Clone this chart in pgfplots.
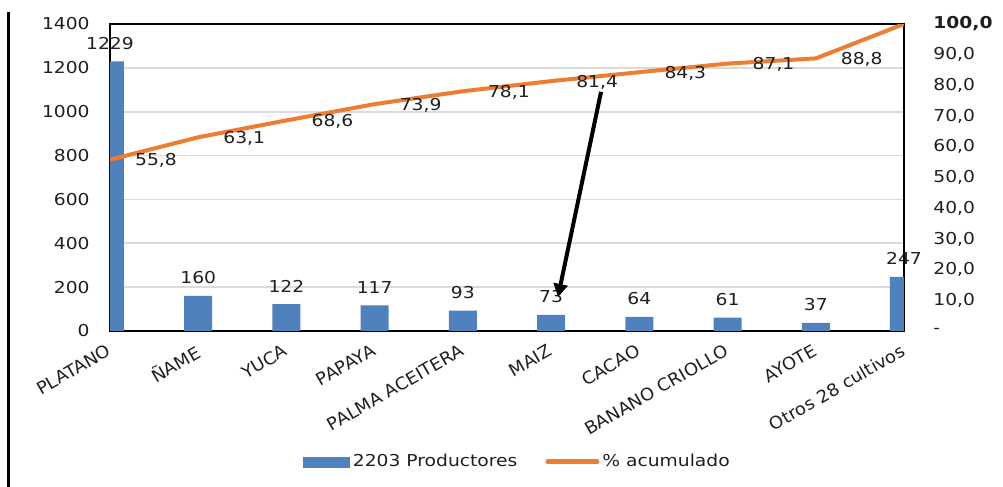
\documentclass[border=0pt]{standalone}
\usepackage{fontspec}
\usepackage{pgfplots}
\pgfplotsset{compat=1.18}
\usetikzlibrary{arrows.meta}
\newfontfamily\cf[FakeStretch=1.14]{DejaVu Sans}
\newfontfamily\cfn[FakeStretch=1.05]{DejaVu Sans}
\newcommand\chartfont{\cf\fontsize{8.2pt}{9.8pt}\selectfont}
\newcommand\xfont{\cfn\fontsize{8.6pt}{10pt}\selectfont}
\definecolor{barblue}{HTML}{4F81BD}
\definecolor{lineorange}{HTML}{ED7D31}
\definecolor{txt}{HTML}{1F1F1F}
\begin{document}
\begin{tikzpicture}
\useasboundingbox (-55pt,-78pt) rectangle (446.5pt,165.5pt);
\draw[black, line width=1.5pt] (-50.5pt,159.5pt) -- (-50.5pt,-78pt);
\begin{axis}[
 at={(0pt,0pt)}, anchor=south west,
 scale only axis, width=397pt, height=153.5pt,
 xmin=0, xmax=9, ymin=0, ymax=1400,
 xtick={0,...,9},
 xticklabels={PLATANO,ÑAME,YUCA,PAPAYA,PALMA ACEITERA,MAIZ,CACAO,BANANO CRIOLLO,AYOTE,Otros 28 cultivos},
 ytick={0,200,...,1400},
 yticklabels={0,200,400,600,800,1000,1200,1400},
 major tick length=0pt,
 ymajorgrids, grid style={draw=gray!28, line width=0.9pt},
 axis line style={black, line width=1pt},
 tick label style={text=txt},
 yticklabel style={font=\chartfont, anchor=east, inner sep=0pt, xshift=-10pt},
 xticklabel style={font=\xfont, xshift=-2pt, yshift=-6pt, rotate=30, anchor=north east, inner sep=0pt},
 tick style={draw=none},
]
\addplot[ybar, bar width=14pt, fill=barblue, draw=none, nodes near coords, point meta=explicit symbolic,
  every node near coord/.append style={font=\chartfont, text=txt, anchor=south, inner sep=0pt, yshift=5.75pt}]
  table[meta=lab, row sep=\\] {x y lab\\ 0 1229 1229\\ 1 160 160\\ 2 122 122\\ 3 117 117\\ 4 93 93\\ 5 73 73\\ 6 64 64\\ 7 61 61\\ 8 37 37\\ 9 247 247\\};
\end{axis}
\begin{axis}[
 at={(0pt,0pt)}, anchor=south west,
 scale only axis, width=397pt, height=153.5pt,
 xmin=0, xmax=9, ymin=0, ymax=100,
 hide x axis, axis y line*=right, y axis line style={draw=none},
 ytick={0,10,...,100},
 yticklabels={{-},{10,0},{20,0},{30,0},{40,0},{50,0},{60,0},{70,0},{80,0},{90,0},{\textbf{100,0}}},
 major tick length=0pt, tick style={draw=none},
 yticklabel style={font=\chartfont, text=txt, anchor=west, inner sep=0pt, xshift=14.5pt},
 legend columns=2,
 legend style={at={(0.5138,-0.4267)}, anchor=center, draw=none, fill=none, font=\chartfont, text=txt,
   inner sep=0pt, nodes={inner sep=1.5pt}, /tikz/every even column/.append style={column sep=12.5pt}},
]
\addlegendimage{legend image code/.code={\fill[barblue] (0pt,-2.5pt) rectangle (23pt,2.5pt);}}
\addlegendentry{2203 Productores}
\addplot[lineorange, line width=2pt, line join=round, mark=none,
  legend image code/.code={\draw[lineorange, line width=2.5pt, line cap=round] (0pt,0pt) -- (24.5pt,0pt);}]
  coordinates {(0,55.8) (1,63.1) (2,68.6) (3,73.9) (4,78.1) (5,81.4) (6,84.3) (7,87.1) (8,88.8) (9,100)};
\addlegendentry{\% acumulado}
\addplot[draw=none, mark=none, nodes near coords, point meta=explicit symbolic, forget plot,
  every node near coord/.append style={font=\chartfont, text=txt, anchor=center, xshift=23pt, yshift=-0.5pt}]
  table[meta=lab, row sep=\\] {x y lab\\ 0 55.8 55,8\\ 1 63.1 63,1\\ 2 68.6 68,6\\ 3 73.9 73,9\\ 4 78.1 78,1\\ 5 81.4 81,4\\ 6 84.3 84,3\\ 7 87.1 87,1\\ 8 88.8 88,8\\};
\draw[black, line width=2pt, -{Triangle[length=6.5pt,width=7pt]}] (axis cs:5.566,77.9) -- (axis cs:5.078,11.1);
\end{axis}
\end{tikzpicture}
\end{document}
